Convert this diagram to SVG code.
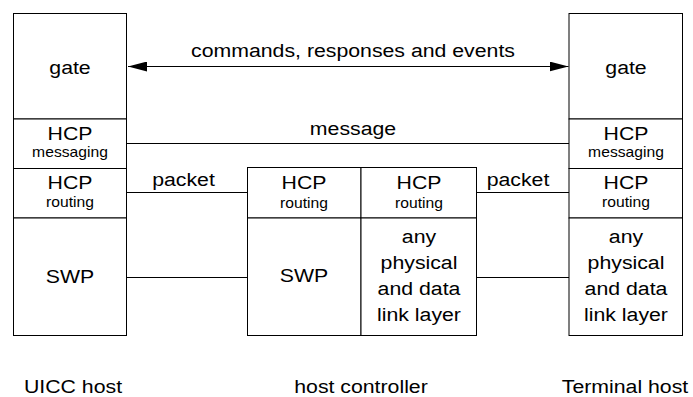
<svg xmlns="http://www.w3.org/2000/svg" width="693" height="397" viewBox="0 0 693 397">
<defs>
<style>
.box{fill:#fff;stroke:#000;stroke-width:1}
.ln{stroke:#000;stroke-width:1;fill:none}
text{font-family:"Liberation Sans",Arial,sans-serif;fill:#000;text-anchor:middle}
.big{font-size:19px}
.sm{font-size:14px}
</style>
<marker id="ah" viewBox="0 0 19 10" refX="19" refY="5" markerWidth="19" markerHeight="10" markerUnits="userSpaceOnUse" orient="auto-start-reverse">
<path d="M0,0 L19,5 L0,10 Z" fill="#000"/>
</marker>
</defs>
<rect width="693" height="397" fill="#fff"/>
<g id="connectors">
<line class="ln" x1="128" y1="66.5" x2="568.5" y2="66.5" marker-start="url(#ah)" marker-end="url(#ah)"/>
<line class="ln" x1="127" y1="143.5" x2="569" y2="143.5"/>
<line class="ln" x1="127" y1="192.5" x2="247" y2="192.5"/>
<line class="ln" x1="477" y1="192.5" x2="569" y2="192.5"/>
<line class="ln" x1="127" y1="277.5" x2="247" y2="277.5"/>
<line class="ln" x1="477" y1="277.5" x2="569" y2="277.5"/>
<text class="big" transform="matrix(1.12 0 0 1 353 0)" y="57">commands, responses and events</text>
<text class="big" transform="matrix(1.12 0 0 1 353 0)" y="135">message</text>
<text class="big" transform="matrix(1.12 0 0 1 183.5 0)" y="186">packet</text>
<text class="big" transform="matrix(1.12 0 0 1 518 0)" y="186">packet</text>
</g>
<g id="uicc-host">
<rect class="box" x="13.5" y="13.5" width="113" height="105.5"/>
<rect class="box" x="13.5" y="119" width="113" height="49.5"/>
<rect class="box" x="13.5" y="168.5" width="113" height="49.5"/>
<rect class="box" x="13.5" y="218" width="113" height="117.5"/>
<text class="big" transform="matrix(1.12 0 0 1 70 0)" y="74">gate</text>
<text class="big" transform="matrix(1.12 0 0 1 70 0)" y="140">HCP</text>
<text class="sm" transform="matrix(1.12 0 0 1 70 0)" y="157">messaging</text>
<text class="big" transform="matrix(1.12 0 0 1 70 0)" y="189">HCP</text>
<text class="sm" transform="matrix(1.12 0 0 1 70 0)" y="207">routing</text>
<text class="big" transform="matrix(1.12 0 0 1 70 0)" y="283">SWP</text>
<text class="big" transform="matrix(1.12 0 0 1 73 0)" y="393">UICC host</text>
</g>
<g id="host-controller">
<rect class="box" x="247.5" y="167.5" width="113.5" height="50.5"/>
<rect class="box" x="247.5" y="218" width="113.5" height="117.5"/>
<rect class="box" x="361" y="167.5" width="115.5" height="50.5"/>
<rect class="box" x="361" y="218" width="115.5" height="117.5"/>
<text class="big" transform="matrix(1.12 0 0 1 304 0)" y="189">HCP</text>
<text class="sm" transform="matrix(1.12 0 0 1 304 0)" y="208">routing</text>
<text class="big" transform="matrix(1.12 0 0 1 304 0)" y="282">SWP</text>
<text class="big" transform="matrix(1.12 0 0 1 419 0)" y="189">HCP</text>
<text class="sm" transform="matrix(1.12 0 0 1 419 0)" y="208">routing</text>
<text class="big" transform="matrix(1.12 0 0 1 419 0)" y="243">any</text>
<text class="big" transform="matrix(1.12 0 0 1 419 0)" y="269">physical</text>
<text class="big" transform="matrix(1.12 0 0 1 419 0)" y="295">and data</text>
<text class="big" transform="matrix(1.12 0 0 1 419 0)" y="321">link layer</text>
<text class="big" transform="matrix(1.12 0 0 1 361 0)" y="393">host controller</text>
</g>
<g id="terminal-host">
<rect class="box" x="569" y="13.5" width="113.5" height="105.5"/>
<rect class="box" x="569" y="119" width="113.5" height="49.5"/>
<rect class="box" x="569" y="168.5" width="113.5" height="49.5"/>
<rect class="box" x="569" y="218" width="113.5" height="117.5"/>
<text class="big" transform="matrix(1.12 0 0 1 626 0)" y="74">gate</text>
<text class="big" transform="matrix(1.12 0 0 1 626 0)" y="140">HCP</text>
<text class="sm" transform="matrix(1.12 0 0 1 626 0)" y="157">messaging</text>
<text class="big" transform="matrix(1.12 0 0 1 626 0)" y="189">HCP</text>
<text class="sm" transform="matrix(1.12 0 0 1 626 0)" y="207">routing</text>
<text class="big" transform="matrix(1.12 0 0 1 626 0)" y="243">any</text>
<text class="big" transform="matrix(1.12 0 0 1 626 0)" y="269">physical</text>
<text class="big" transform="matrix(1.12 0 0 1 626 0)" y="295">and data</text>
<text class="big" transform="matrix(1.12 0 0 1 626 0)" y="321">link layer</text>
<text class="big" transform="matrix(1.12 0 0 1 625 0)" y="393">Terminal host</text>
</g>
</svg>
